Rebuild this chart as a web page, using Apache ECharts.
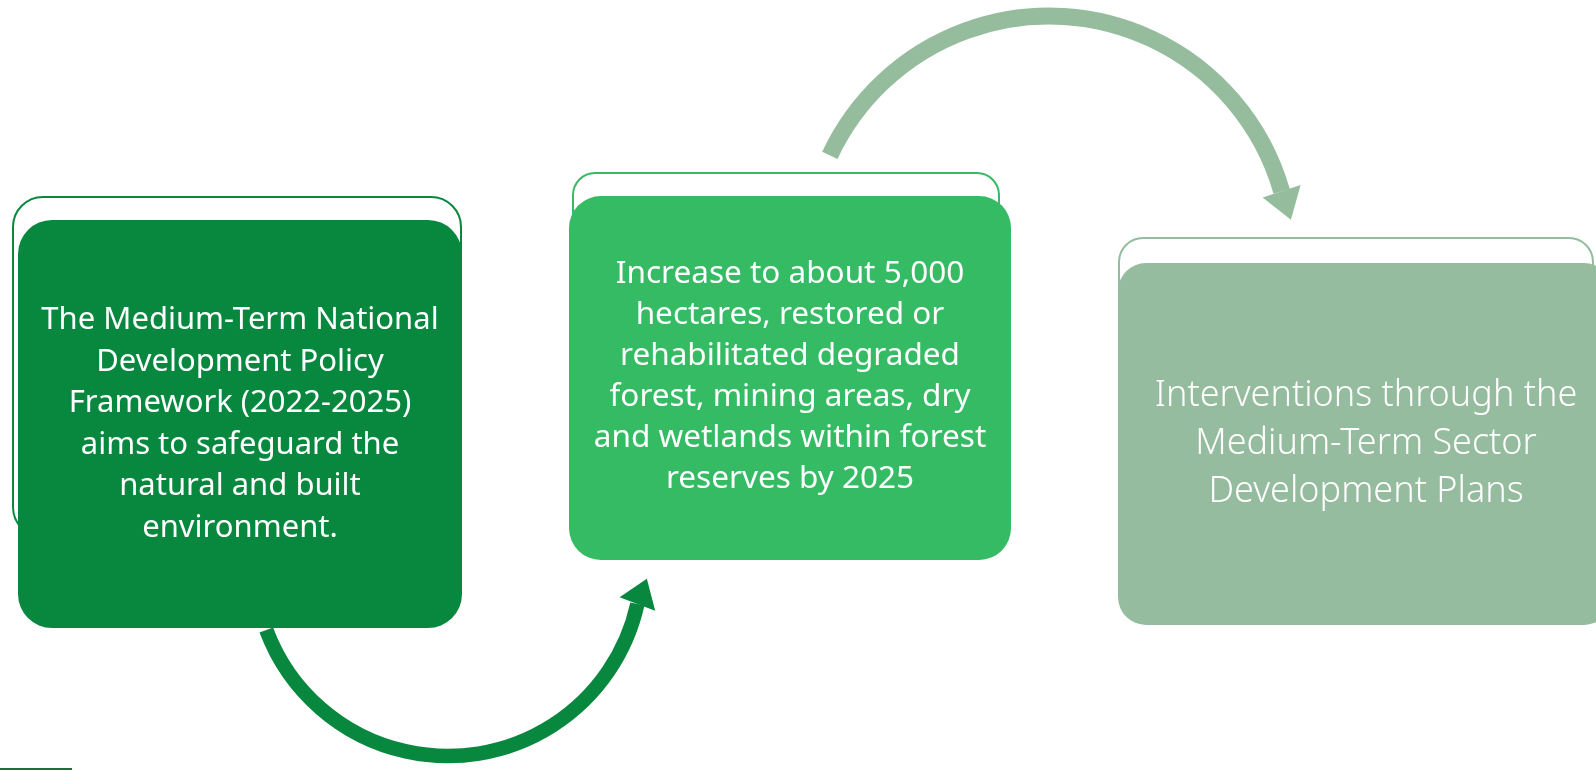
<!DOCTYPE html>
<html>
<head>
<meta charset="utf-8">
<script src="https://cdn.jsdelivr.net/npm/echarts@6/dist/echarts.min.js"></script>
<style>
html,body{margin:0;padding:0;background:#fff;}
#chart{width:1596px;height:771px;}
</style>
</head>
<body>
<div id="chart"></div>
<script>
// ---- content ----
var stepNames = ['Policy framework', 'Target', 'Interventions'];
var box1Lines = ['The Medium-Term National', 'Development Policy', 'Framework (2022-2025)', 'aims to safeguard the', 'natural and built', 'environment.'];
var box2Lines = ['Increase to about 5,000', 'hectares, restored or', 'rehabilitated degraded', 'forest, mining areas, dry', 'and wetlands within forest', 'reserves by 2025'];
var box3Lines = ['Interventions through the', 'Medium-Term Sector', 'Development Plans'];
var stepTexts = [box1Lines, box2Lines, box3Lines];

// ---- layout (page units, x 0..1596, y 0..771) ----
var W = 1596, H = 771;
var boxRect = [[18, 220, 444, 408], [569, 196, 442, 364], [1118, 263, 494, 362]];
var outlineRect = [[13, 197, 448, 340], [573, 173, 426, 300], [1119, 238, 474, 300]];
var boxRadius = [34, 32, 28];
var outlineRadius = [30, 22, 24];
var textCenter = [[240, 424], [790, 377], [1366, 444]];
var fontSize = [31, 31.5, 36];
var lineH = [41.5, 41, 48];
var boxColor = ['#08873F', '#34BB64', '#96BC9F'];
var outlineColor = ['#08873F', '#34BB64', '#96BC9F'];

// arrows: circle centre, radius, tail angle, head angle (degrees, screen coords)
var arrowArc = [[448, 562, 194, 159.5, 12.5], [1049, 258, 242, -154.9, -16]];
var arrowWidth = [14.5, 17];
var arrowHeadLen = [27, 30];
var arrowHeadHalf = [19, 20];
var arrowTilt = [8, -2];
var arrowColor = ['#08873F', '#96BC9E'];

var chart = echarts.init(document.getElementById('chart'), null, {renderer: 'canvas'});

function boxItem(params, api) {
  var i = api.value(0);
  var r = boxRect[i], o = outlineRect[i];
  var p0 = api.coord([r[0], r[1]]);
  var p1 = api.coord([r[0] + r[2], r[1] + r[3]]);
  var q0 = api.coord([o[0], o[1]]);
  var q1 = api.coord([o[0] + o[2], o[1] + o[3]]);
  var tc = api.coord(textCenter[i]);
  return {
    type: 'group',
    children: [
      {
        type: 'rect',
        shape: {x: q0[0], y: q0[1], width: q1[0] - q0[0], height: q1[1] - q0[1], r: outlineRadius[i]},
        style: {fill: null, stroke: outlineColor[i], lineWidth: 2}
      },
      {
        type: 'rect',
        shape: {x: p0[0], y: p0[1], width: p1[0] - p0[0], height: p1[1] - p0[1], r: boxRadius[i]},
        style: {fill: boxColor[i]}
      },
      {
        type: 'text',
        style: {
          x: tc[0], y: tc[1],
          text: stepTexts[i].join('\n'),
          align: 'center', verticalAlign: 'middle',
          fontFamily: 'Noto Sans', fontSize: fontSize[i], lineHeight: lineH[i],
          fontWeight: i === 2 ? 300 : 'normal',
          fill: '#ffffff'
        }
      }
    ]
  };
}

function arrowItem(params, api) {
  var i = api.value(0);
  var a = arrowArc[i];
  var c = api.coord([a[0], a[1]]);
  var R = a[2];
  var t0 = a[3] * Math.PI / 180, t1 = a[4] * Math.PI / 180;
  var inc = t1 > t0;
  var start = Math.min(t0, t1), end = Math.max(t0, t1);
  var ex = c[0] + R * Math.cos(t1), ey = c[1] + R * Math.sin(t1);
  var dx, dy;
  if (inc) { dx = -Math.sin(t1); dy = Math.cos(t1); } else { dx = Math.sin(t1); dy = -Math.cos(t1); }
  var tilt = arrowTilt[i] * Math.PI / 180;
  var ndx = dx * Math.cos(tilt) - dy * Math.sin(tilt);
  var ndy = dx * Math.sin(tilt) + dy * Math.cos(tilt);
  var L = arrowHeadLen[i], hw = arrowHeadHalf[i];
  var px = -ndy, py = ndx;
  var tip = [ex + ndx * L, ey + ndy * L];
  var b1 = [ex + px * hw, ey + py * hw];
  var b2 = [ex - px * hw, ey - py * hw];
  return {
    type: 'group',
    children: [
      {
        type: 'arc',
        shape: {cx: c[0], cy: c[1], r: R, startAngle: start, endAngle: end, clockwise: true},
        style: {fill: null, stroke: arrowColor[i], lineWidth: arrowWidth[i], lineCap: 'butt'}
      },
      {
        type: 'polygon',
        shape: {points: [b1, tip, b2]},
        style: {fill: arrowColor[i]}
      }
    ]
  };
}

var option = {
  backgroundColor: '#ffffff',
  animation: false,
  grid: {left: 0, right: 0, top: 0, bottom: 0},
  xAxis: {type: 'value', min: 0, max: W, show: false},
  yAxis: {type: 'value', min: 0, max: H, inverse: true, show: false},
  series: [
    {
      type: 'custom',
      name: 'arrows',
      renderItem: arrowItem,
      data: [[0], [1]],
      silent: true,
      z: 1
    },
    {
      type: 'custom',
      name: 'steps',
      renderItem: boxItem,
      data: stepNames.map(function (n, k) { return {name: n, value: [k]}; }),
      silent: true,
      z: 2
    }
  ],
  graphic: [
    {type: 'line', shape: {x1: 0, y1: 769, x2: 72, y2: 769}, style: {stroke: '#1B6E3A', lineWidth: 2}}
  ]
};
chart.setOption(option);
</script>
</body>
</html>
